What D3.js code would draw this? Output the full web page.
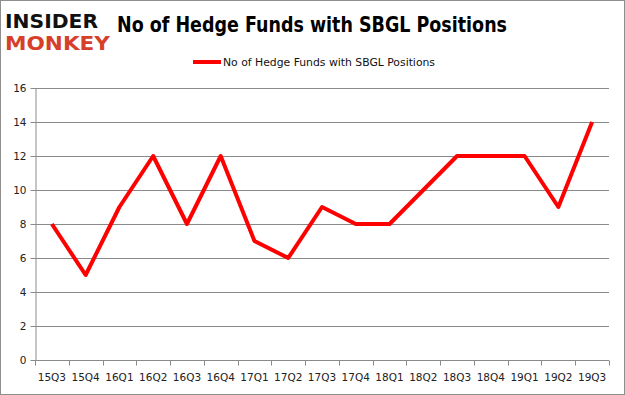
<!DOCTYPE html>
<html>
<head>
<meta charset="utf-8">
<script src="https://cdn.jsdelivr.net/npm/d3@7"></script>
<style>
  body { margin: 0; background: #fff; }
  text { font-family: "DejaVu Sans", Verdana, sans-serif; }
</style>
</head>
<body>
<script>
const width = 625;
const height = 395;
const margin = {top: 88, right: 16, bottom: 35, left: 35};

const quarters = ['15Q3', '15Q4', '16Q1', '16Q2', '16Q3', '16Q4', '17Q1', '17Q2', '17Q3',
  '17Q4', '18Q1', '18Q2', '18Q3', '18Q4', '19Q1', '19Q2', '19Q3'];
const funds = [8, 5, 9, 12, 8, 12, 7, 6, 9, 8, 8, 10, 12, 12, 12, 9, 14];
const yTicks = [0, 2, 4, 6, 8, 10, 12, 14, 16];
const seriesName = 'No of Hedge Funds with SBGL Positions';
const title = 'No of Hedge Funds with SBGL Positions';

const svg = d3.select('body')
  .append('svg')
    .attr('width', width)
    .attr('height', height);

// frame
svg.append('rect')
  .attr('x', 0.5).attr('y', 0.5)
  .attr('width', width - 1).attr('height', height - 1)
  .attr('fill', '#fff')
  .attr('stroke', '#8e8e8e');

// logo
svg.append('text')
  .attr('x', 5).attr('y', 28)
  .attr('font-family', '"DejaVu Sans", sans-serif')
  .attr('font-weight', 'bold')
  .attr('font-size', 19)
  .attr('textLength', 93).attr('lengthAdjust', 'spacingAndGlyphs')
  .attr('fill', '#111')
  .text('INSIDER');
svg.append('text')
  .attr('x', 5).attr('y', 50)
  .attr('font-family', '"DejaVu Sans", sans-serif')
  .attr('font-weight', 'bold')
  .attr('font-size', 19)
  .attr('textLength', 105).attr('lengthAdjust', 'spacingAndGlyphs')
  .attr('fill', '#d6402a')
  .text('MONKEY');

svg.append('text')
  .attr('x', 117).attr('y', 32)
  .attr('font-family', '"Open Sans", sans-serif')
  .attr('font-weight', 600)
  .attr('font-size', 21)
  .attr('textLength', 390).attr('lengthAdjust', 'spacingAndGlyphs')
  .attr('fill', '#000')
  .text(title);

const x = d3.scaleBand()
  .domain(quarters)
  .range([margin.left, width - margin.right]);

const y = d3.scaleLinear()
  .domain([0, 16])
  .range([height - margin.bottom, margin.top]);

// grid
svg.append('g')
  .selectAll('line')
  .data(yTicks)
  .enter()
    .append('line')
    .attr('x1', margin.left).attr('x2', width - margin.right)
    .attr('y1', (d) => Math.round(y(d)) + 0.5)
    .attr('y2', (d) => Math.round(y(d)) + 0.5)
    .attr('stroke', '#8a8a8a');

const yAxis = d3.axisLeft(y)
  .tickValues(yTicks)
  .tickSizeInner(5)
  .tickSizeOuter(0)
  .tickPadding(4);

const xAxis = d3.axisBottom(x)
  .tickSize(0)
  .tickPadding(13);

const ya = svg.append('g')
  .attr('transform', `translate(${margin.left + 0.5}, 0)`)
  .call(yAxis);

const xa = svg.append('g')
  .attr('transform', `translate(0, ${Math.round(y(0)) + 0.5})`)
  .call(xAxis);

// category boundary ticks
xa.selectAll('.bound')
  .data(quarters.concat(['end']))
  .enter()
    .append('line')
    .attr('x1', (d, i) => Math.round(margin.left + i * x.step()) + 0.5)
    .attr('x2', (d, i) => Math.round(margin.left + i * x.step()) + 0.5)
    .attr('y1', 0).attr('y2', 5)
    .attr('stroke', '#8a8a8a');

[ya, xa].forEach((g) => {
  g.select('.domain').attr('stroke', '#8a8a8a');
  g.selectAll('.tick line').attr('stroke', '#8a8a8a');
  g.selectAll('text')
    .attr('font-family', '"DejaVu Sans", Verdana, sans-serif')
    .attr('font-size', 10.5)
    .attr('fill', '#222');
});
xa.select('.domain').attr('d', `M${margin.left},0H${width - margin.right}`);

const line = d3.line()
  .x((d, i) => x(quarters[i]) + x.bandwidth() / 2)
  .y((d) => y(d));

svg.append('path')
  .datum(funds)
  .attr('fill', 'none')
  .attr('stroke', '#ff0000')
  .attr('stroke-width', 4)
  .attr('stroke-linejoin', 'round')
  .attr('d', line);

// legend
const legend = svg.append('g');
legend.append('line')
  .attr('x1', 193).attr('x2', 221)
  .attr('y1', 62).attr('y2', 62)
  .attr('stroke', '#ff0000')
  .attr('stroke-width', 4);
legend.append('text')
  .attr('x', 223).attr('y', 66)
  .attr('font-size', 11)
  .attr('textLength', 212).attr('lengthAdjust', 'spacingAndGlyphs')
  .attr('fill', '#111')
  .text(seriesName);
</script>
</body>
</html>
